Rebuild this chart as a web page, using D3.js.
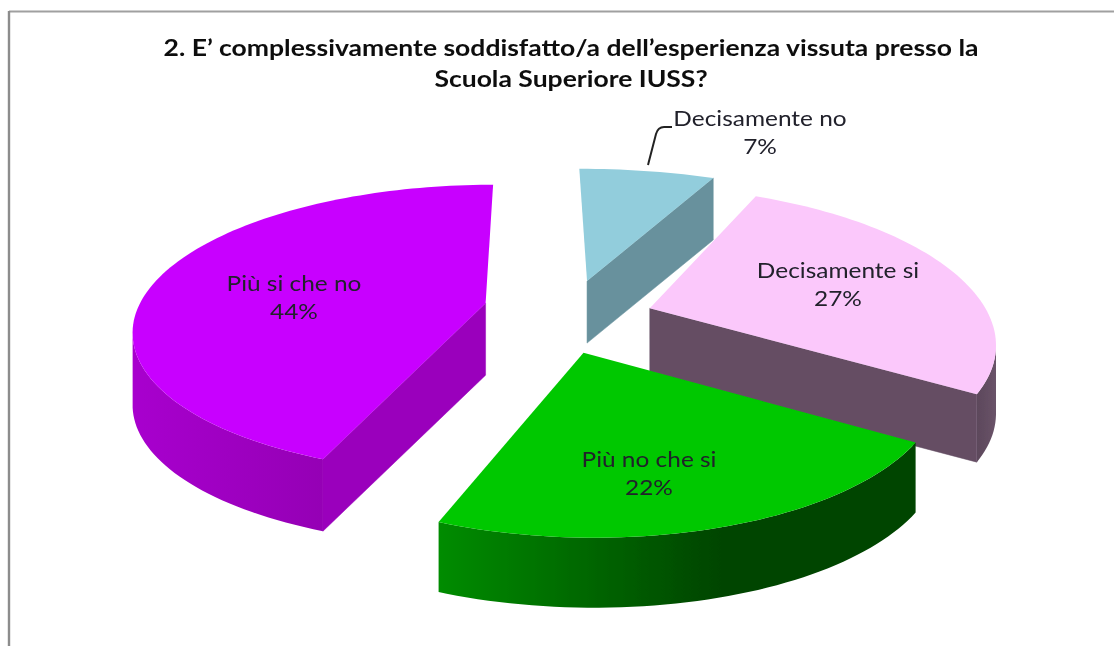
<!DOCTYPE html>
<html><head><meta charset="utf-8">
<script src="https://cdnjs.cloudflare.com/ajax/libs/d3/7.8.5/d3.min.js"></script>
<style>html,body{margin:0;padding:0;background:#fff}svg{display:block}</style></head>
<body><svg id="c" width="1114" height="646"></svg>
<script>
const titleLines = ["2. E’ complessivamente soddisfatto/a dell’esperienza vissuta presso la", "Scuola Superiore IUSS?"];
const categories = ["Decisamente no", "Decisamente si", "Più no che si", "Più si che no"];
const values = [7, 27, 22, 44];
const topColors = ["#92CDDC", "#FBC8FB", "#00C800", "#C800FF"];
const sideColors = ["#67919D", "#654E64", "#008000", "#9A00BC"];
const rimLeft = ["#67919D", "#5c485b", "#008C00", "#A800CE"];
const rimRight = ["#67919D", "#6a5369", "#004400", "#9500B5"];
const explodeX = [0.155, 0.33, 0.132, -0.143];
const explodeY = [-0.286, -0.083, 0.22, -0.12];
const radiusX = [1.08, 0.965, 0.95, 1];
const radiusY = [1.02, 1.04, 0.975, 1.02];
const wallDepth = [62, 68, 70, 72];
const labelX = [760, 838, 649, 294];
const labelY = [119, 271, 460, 284];
const drawOrder = [0, 3, 1, 2];

const svg = d3.select("#c");
const defs = svg.append("defs");
defs.append("filter").attr("id", "soft").attr("x", "-5%").attr("y", "-5%").attr("width", "110%").attr("height", "110%")
  .append("feGaussianBlur").attr("stdDeviation", 0.5);
const vx = 535, vy = 320, persp = 0.18;
const sx = d3.scaleLinear().domain([-1, 1]).range([vx - 353, vx + 353]);
const sy = d3.scaleLinear().domain([-1, 1]).range([vy - 143, vy + 143]);
const project = (X, Y, drop = 0) => {
  const f = 1 / (1 - persp * Y);
  return [vx + (sx(X) - vx) * f, vy + (sy(Y) - vy) * f + drop];
};
const pie = d3.pie().sort(null)(values);
const line = d3.line();
const g = svg.append("g").attr("filter", "url(#soft)");

// frame (open on the right and bottom)
g.append("path").attr("d", "M1114,11.5H9").attr("fill", "none").attr("stroke", "#a0a0a0").attr("stroke-width", 1.8);
g.append("path").attr("d", "M9,11V646").attr("fill", "none").attr("stroke", "#8c8c8c").attr("stroke-width", 2.4);

drawOrder.forEach(i => {
  const p = pie[i], depth = wallDepth[i];
  const cx = explodeX[i], cy = explodeY[i];
  const rim = a => project(cx + radiusX[i] * Math.sin(a), cy - radiusY[i] * Math.cos(a));
  const rimLow = a => { const q = rim(a); return [q[0], q[1] + depth]; };
  const apex = project(cx, cy), apexLow = project(cx, cy, depth);
  const step = Math.PI / 120;
  const angles = d3.range(p.startAngle, p.endAngle, step).concat([p.endAngle]);
  const sl = g.append("g").attr("class", "slice");
  // outer wall: the front part of the rim, between its left and right tangents
  const full = d3.range(0, 2 * Math.PI, step);
  const aRight = full[d3.greatestIndex(full, a => rim(a)[0])];
  const aLeft = full[d3.leastIndex(full, a => rim(a)[0])];
  const vis = angles.filter(a => a >= aRight && a <= aLeft);
  if (vis.length > 1) {
    const xs = vis.map(a => rim(a)[0]);
    const id = "rim" + i;
    const gr = defs.append("linearGradient").attr("id", id).attr("gradientUnits", "userSpaceOnUse")
      .attr("x1", d3.min(xs)).attr("x2", d3.max(xs)).attr("y1", 0).attr("y2", 0);
    gr.append("stop").attr("offset", 0).attr("stop-color", rimLeft[i]);
    gr.append("stop").attr("offset", i === 2 ? 0.6 : 1).attr("stop-color", rimRight[i]);
    sl.append("path").attr("d", line(vis.map(rim).concat(vis.slice().reverse().map(rimLow))) + "Z")
      .attr("fill", `url(#${id})`);
  }
  // radial walls: only those facing the viewer
  [[p.startAngle, -Math.sin(p.startAngle)], [p.endAngle, Math.sin(p.endAngle)]].forEach(([a, n]) => {
    if (n <= 1e-6) return;
    sl.append("path").attr("d", line([apex, rim(a), rimLow(a), apexLow]) + "Z")
      .attr("fill", sideColors[i]).attr("stroke", sideColors[i]).attr("stroke-width", 0.5);
  });
  // top
  sl.append("path").attr("d", line([apex].concat(angles.map(rim))) + "Z").attr("fill", topColors[i]);
});

const fontFam = "Lato, Carlito, 'Open Sans', sans-serif";
g.append("path").attr("d", "M648,165 L656,134 Q658,127 664,127 L672,127").attr("fill", "none").attr("stroke", "#222").attr("stroke-width", 2);

const stretched = (s, x, y, size, stretch, weight, fill) =>
  g.append("text").attr("transform", `translate(${x},${y}) scale(${stretch},1)`).attr("text-anchor", "middle")
    .attr("font-family", fontFam).attr("font-size", size).attr("font-weight", weight).attr("fill", fill).text(s);

categories.forEach((c, i) => {
  stretched(c, labelX[i], labelY[i] + 7, 21.5, 1.137, 400, "#20202c");
  stretched(values[i] + "%", labelX[i], labelY[i] + 35, 21.5, 1.137, 400, "#20202c");
});
titleLines.forEach((s, k) => {
  stretched(s, 571, 56 + k * 31, 23, 1.153, 700, "#0c0c0c");
});
</script></body></html>
